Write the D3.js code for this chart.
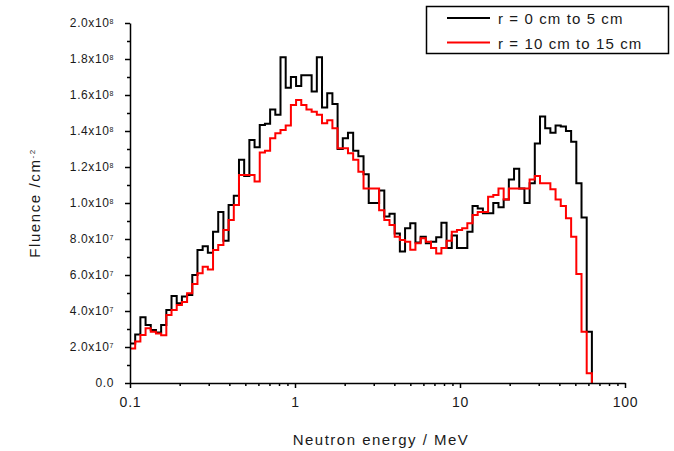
<!DOCTYPE html>
<html><head><meta charset="utf-8">
<script src="https://cdn.jsdelivr.net/npm/d3@7/dist/d3.min.js"></script>
<style>
body{margin:0;background:#fff}
svg{display:block;background:#fff}
text{font-family:"Liberation Sans",Arial,sans-serif;fill:#1a1a1a}
</style>
</head><body>
<svg id="chart" width="674" height="451"></svg>
<script>
// Histogram bins: log-uniform energy bins from eMin to eMax (MeV)
const eMin = 0.1, eMax = 63;
// Fluence per bin, in units of 1e7 cm^-2
const fluenceInner = [2.2,2.7,3.65,3.22,2.94,2.8,3.22,4.06,4.83,4.43,
  4.8,4.89,6.0,7.39,7.6,7.24,8.4,9.5,7.9,9.89,
  10.4,12.4,11.5,13.5,13.1,14.33,14.4,15.2,14.9,18.1,
  16.4,17.0,16.5,17.1,17.1,16.2,18.1,15.3,16.1,15.5,
  13.0,13.6,13.9,12.9,12.6,11.6,10.0,10.0,10.7,9.25,
  9.4,8.3,7.3,8.6,8.87,7.8,8.13,7.76,7.85,8.1,
  8.9,7.5,8.2,7.5,7.5,8.4,9.83,9.7,9.43,9.43,
  10.0,9.76,10.2,11.3,11.9,10.8,10.0,11.1,13.3,14.8,
  14.15,13.9,14.3,14.25,14.0,13.4,11.1,9.2,2.85];
const fluenceOuter = [1.92,2.3,2.67,3.04,2.85,2.75,2.65,3.78,4.05,4.33,
  4.5,4.98,5.5,6.1,6.46,6.3,7.39,7.67,8.5,9.05,
  9.89,11.55,11.55,11.55,11.2,12.8,12.9,13.6,13.87,14.05,
  14.3,15.45,15.72,15.45,15.2,15.07,14.9,14.43,14.6,14.15,
  13.04,13.04,12.77,12.4,11.74,10.8,10.8,10.8,9.6,9.06,
  8.78,8.13,7.94,7.85,7.4,7.76,8.04,7.85,7.5,7.2,
  7.5,7.9,8.4,8.5,8.6,8.87,9.33,9.5,9.5,10.35,
  10.44,10.8,10.2,10.8,10.8,10.8,10.8,11.3,11.5,11.1,
  11.1,10.76,10.2,9.83,9.15,8.13,6.05,2.85,0.54];
const seriesNames = ["r = 0 cm to 5 cm", "r = 10 cm to 15 cm"];
const seriesColors = ["#000000", "#ff0000"];
const xTickValues = [0.1, 1, 10, 100];
const xTickLabels = ["0.1", "1", "10", "100"];
const xMinorValues = [0.2,0.3,0.4,0.5,0.6,0.7,0.8,0.9,2,3,4,5,6,7,8,9,20,30,40,50,60,70,80,90];
const yTickValues = [0,2,4,6,8,10,12,14,16,18,20];
const yTickMantissa = ["0.0","2.0x10","4.0x10","6.0x10","8.0x10","1.0x10","1.2x10","1.4x10","1.6x10","1.8x10","2.0x10"];
const yTickExponent = ["","7","7","7","7","8","8","8","8","8","8"];
const yMinorValues = [1,3,5,7,9,11,13,15,17,19];

const svg = d3.select("#chart");
const L = 130, R = 625, T = 23, B = 383;
const x = d3.scaleLog().domain([0.1, 100]).range([L, R]);
const y = d3.scaleLinear().domain([0, 20]).range([B, T]);

const nBins = fluenceInner.length;
const edges = d3.range(nBins + 1).map(i => eMin * Math.pow(eMax / eMin, i / nBins));

function stepPoints(vals) {
  const pts = vals.map((v, i) => [edges[i], v]);
  pts.push([edges[nBins], vals[nBins - 1]]);
  pts.push([edges[nBins], 0]);
  return pts;
}
const line = d3.line().x(d => x(d[0])).y(d => y(d[1])).curve(d3.curveStepAfter);

// histograms
[fluenceInner, fluenceOuter].forEach((vals, k) => {
  svg.append("path").attr("d", line(stepPoints(vals)))
    .attr("fill", "none").attr("stroke", seriesColors[k])
    .attr("stroke-width", 2).attr("stroke-linejoin", "miter");
});

// x axis
const gx = svg.append("g").attr("transform", `translate(0,${B})`);
gx.call(d3.axisBottom(x).tickValues(xTickValues).tickSize(5).tickSizeOuter(0)
  .tickPadding(9).tickFormat((d, i) => xTickLabels[i]));
const gxm = svg.append("g").attr("transform", `translate(0,${B})`);
gxm.call(d3.axisBottom(x).tickValues(xMinorValues).tickSize(3).tickFormat(""));
gxm.select(".domain").remove();

// y axis
const gy = svg.append("g").attr("transform", `translate(${L},0)`);
gy.call(d3.axisLeft(y).tickValues(yTickValues).tickSize(5).tickSizeOuter(0)
  .tickPadding(11).tickFormat(""));
gy.selectAll(".tick text").each(function(d, i) {
  const t = d3.select(this);
  t.text(null);
  t.append("tspan").text(yTickMantissa[i]);
  if (yTickExponent[i]) t.append("tspan").attr("dy", "-0.55em").attr("font-size", 7).text(yTickExponent[i]);
});
const gym = svg.append("g").attr("transform", `translate(${L},0)`);
gym.call(d3.axisLeft(y).tickValues(yMinorValues).tickSize(3).tickFormat(""));
gym.select(".domain").remove();

svg.selectAll(".domain, .tick line").attr("stroke", "#000").attr("stroke-width", 1.5);
gx.selectAll(".tick text").attr("font-size", 14).attr("letter-spacing", 0.8)
  .attr("font-family", '"Liberation Sans",Arial,sans-serif').attr("fill", "#1a1a1a");
gy.selectAll(".tick text").attr("font-size", 12).attr("letter-spacing", 0.6)
  .attr("font-family", '"Liberation Sans",Arial,sans-serif').attr("fill", "#1a1a1a");

// axis titles
svg.append("text").attr("x", 381).attr("y", 445).attr("text-anchor", "middle")
  .attr("font-size", 15).attr("letter-spacing", 1.5).text("Neutron energy / MeV");
const yt = svg.append("text").attr("transform", "translate(40,203) rotate(-90)")
  .attr("text-anchor", "middle").attr("font-size", 15).attr("letter-spacing", 1.6);
yt.append("tspan").text("Fluence /cm");
yt.append("tspan").attr("dy", "-0.6em").attr("font-size", 8).text("-2");

// legend
const lg = svg.append("g");
lg.append("rect").attr("x", 426.5).attr("y", 6.5).attr("width", 242).attr("height", 47)
  .attr("fill", "#fff").attr("stroke", "#000").attr("stroke-width", 1.5);
seriesNames.forEach((name, k) => {
  const yy = 18 + k * 24.5;
  lg.append("line").attr("x1", 447).attr("x2", 490).attr("y1", yy).attr("y2", yy)
    .attr("stroke", seriesColors[k]).attr("stroke-width", 2);
  lg.append("text").attr("x", 498).attr("y", yy + 6).attr("font-size", 15)
    .attr("letter-spacing", 1.1).text(name);
});
</script>
</body></html>
